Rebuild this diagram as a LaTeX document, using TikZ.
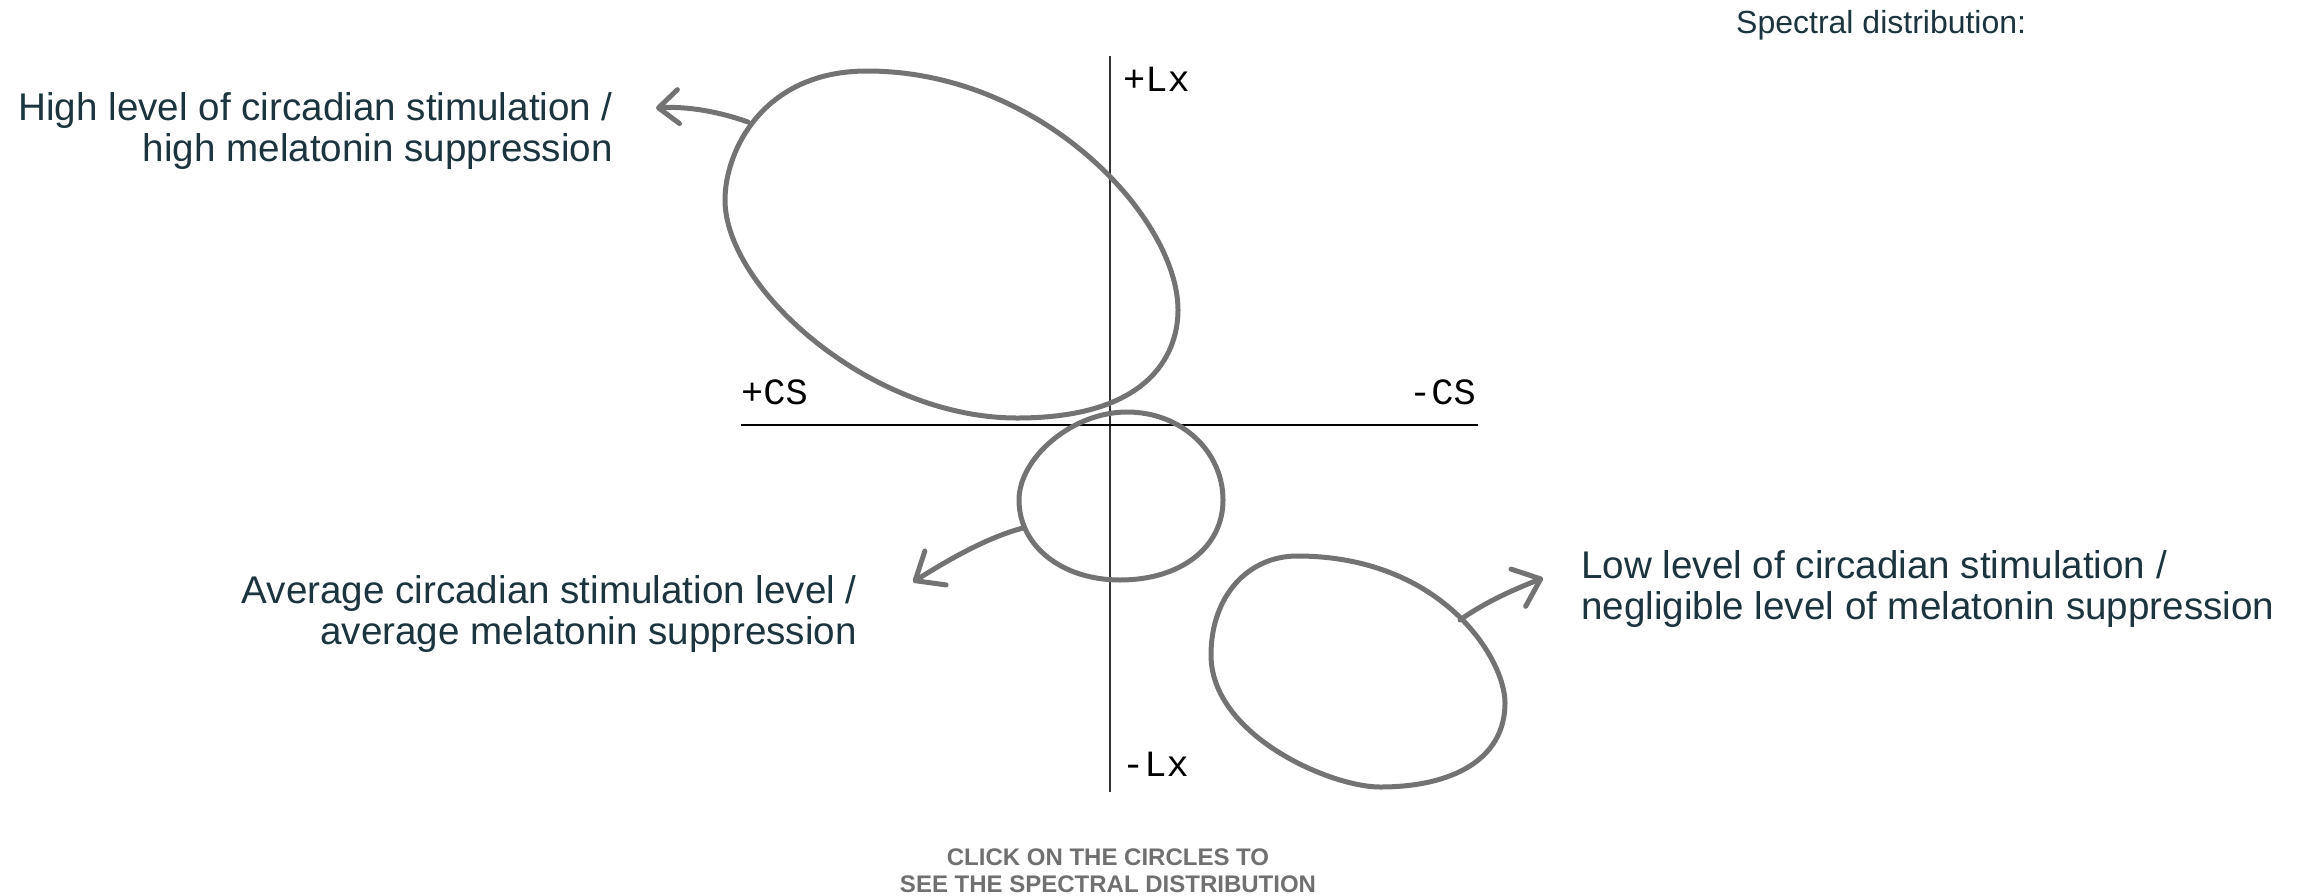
\documentclass[tikz,border=0pt]{standalone}
\usepackage{fontspec}
\setmainfont{Liberation Sans}
\newfontfamily\axisfont{Liberation Mono}
\usetikzlibrary{arrows.meta}
\definecolor{shapegray}{RGB}{115,115,115}
\definecolor{labeltext}{RGB}{28,52,62}
\definecolor{hintgray}{RGB}{112,112,112}
\begin{document}
\begin{tikzpicture}[x=1pt,y=-1pt,
  blob/.style={draw=shapegray,line width=5pt,line join=round},
  pointer/.style={draw=shapegray,line width=5pt,line cap=round},
  desc/.style={text=labeltext,inner sep=0pt,font=\fontsize{38.6}{42}\selectfont},
  axlabel/.style={inner sep=0pt,text=black,font=\axisfont\fontsize{37}{40}\selectfont},
  axisline/.style={draw=black,line width=1.6pt},
  hint/.style={text=hintgray,inner sep=0pt,font=\bfseries\fontsize{24}{30}\selectfont}]
\useasboundingbox (0,0) rectangle (2302,895);

% axes
\coordinate (vtop) at (1110,56);
\coordinate (vbot) at (1110,792);
\coordinate (hleft) at (741,425);
\coordinate (hright) at (1478,425);
\draw[axisline,draw=black!80] (vtop) -- (vbot);
\draw[axisline] (hleft) -- (hright);

\node[axlabel,anchor=base west] (plx) at (1123,91) {+Lx};
\node[axlabel,anchor=base west] (pcs) at (741,404) {+CS};
\node[axlabel,anchor=base east] (mcs) at (1476,404) {-CS};
\node[axlabel,anchor=base west] (mlx) at (1122,776) {-Lx};

% big shape (upper left)
\coordinate (bT) at (867,71);
\coordinate (bR) at (1178,310);
\coordinate (bB) at (1017,418);
\coordinate (bL) at (725,200);
\draw[blob] (bT) .. controls +(175,0) and +(0,-92) .. (bR)
  .. controls +(0,37) and +(140,0) .. (bB)
  .. controls +(-147,0) and +(0,88) .. (bL)
  .. controls +(0,-49) and +(-104,0) .. (bT) -- cycle;

% small shape (centre)
\coordinate (sT) at (1127,412);
\coordinate (sR) at (1223,500);
\coordinate (sB) at (1120,580);
\coordinate (sL) at (1019,500);
\draw[blob] (sT) .. controls +(55,0) and +(0,-48) .. (sR)
  .. controls +(0,48) and +(60,0) .. (sB)
  .. controls +(-58,0) and +(0,46) .. (sL)
  .. controls +(0,-42) and +(-55,0) .. (sT) -- cycle;

% egg shape (lower right)
\coordinate (eT) at (1297,556);
\coordinate (eR) at (1505,703);
\coordinate (eB) at (1380,787);
\coordinate (eL) at (1211,655);
\draw[blob] (eT) .. controls +(144,0) and +(0,-45) .. (eR)
  .. controls +(0,56) and +(73,0) .. (eB)
  .. controls +(-50,0) and +(0,80) .. (eL)
  .. controls +(0,-60) and +(-48,0) .. (eT) -- cycle;

% arrows
\coordinate (a1s) at (748,122);
\coordinate (a1e) at (656,108);
\coordinate (a2s) at (1023,528);
\coordinate (a2e) at (913,582);
\coordinate (a3s) at (1460,620);
\coordinate (a3e) at (1543,578);
\draw[pointer,-{Straight Barb[length=20pt,width=34pt,round]}]
  (a1s) .. controls (720,112) and (688,106) .. (a1e);
\draw[pointer,-{Straight Barb[length=24pt,width=40pt,round]}]
  (a2s) .. controls (985,538) and (945,562) .. (a2e);
\draw[pointer,-{Straight Barb[length=24pt,width=40pt,round]}]
  (a3s) .. controls (1485,602) and (1515,589) .. (a3e);

% descriptions
\node[desc,anchor=base east] (t1a) at (613,120) {High level of circadian stimulation /};
\node[desc,anchor=base east] (t1b) at (613,161) {high melatonin suppression};
\node[desc,anchor=base east] (t2a) at (857,603) {Average circadian stimulation level /};
\node[desc,anchor=base east] (t2b) at (857,644) {average melatonin suppression};
\node[desc,anchor=base west] (t3a) at (1581,578) {Low level of circadian stimulation /};
\node[desc,anchor=base west] (t3b) at (1581,619) {negligible level of melatonin suppression};

\node[desc,anchor=base west,font=\fontsize{32}{36}\selectfont] (spec) at (1736,33) {Spectral distribution:};

\node[hint,anchor=base] (h1) at (1108,865) {CLICK ON THE CIRCLES TO};
\node[hint,anchor=base] (h2) at (1108,892) {SEE THE SPECTRAL DISTRIBUTION};
\end{tikzpicture}
\end{document}
